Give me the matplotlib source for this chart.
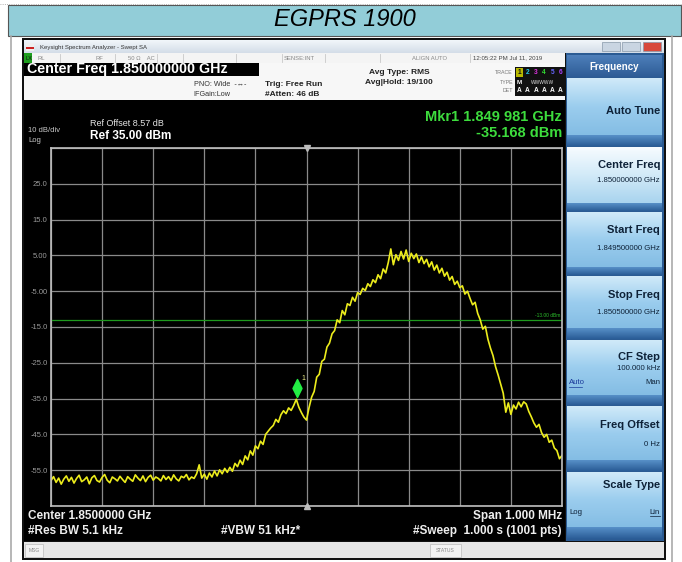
import numpy as np
import matplotlib.pyplot as plt
from matplotlib.patches import Rectangle
from matplotlib.colors import LinearSegmentedColormap
from matplotlib.path import Path

plt.rcParams['font.family'] = ['Liberation Sans', 'DejaVu Sans']

# trace, 5 kHz steps from -500 kHz to +500 kHz around 1.85 GHz (dBm)
trace_dbm = [
    -57.9, -56.8, -58.4, -57.2, -58.9, -57.5, -56.6, -58.1, -57.0, -58.6, -57.3, -56.4, -58.2, -57.7, -56.9, -58.8, -57.1, -56.5, -57.9, -58.3,
    -57.0, -56.2, -57.8, -58.5, -56.9, -57.4, -58.0, -56.7, -57.6, -58.4, -56.8, -57.5, -58.1, -56.3, -57.2, -57.9, -56.6, -58.2, -57.0, -56.4,
    -57.8, -56.9, -57.3, -58.0, -56.5, -57.6, -56.8, -57.9, -56.3, -57.4, -58.0, -56.7, -57.1, -56.2, -57.7, -56.9, -57.3, -56.0, -53.5, -57.2,
    -56.1, -57.5, -55.8, -56.9, -55.2, -56.6, -54.9, -56.0, -54.5, -55.6, -54.2, -55.3, -53.1, -54.0, -52.2, -53.4, -51.0, -52.1, -49.6, -50.8,
    -48.2, -49.0, -46.9, -47.8, -45.0, -44.1, -43.2, -42.5, -40.8, -41.6, -39.5, -38.4, -39.2, -37.6, -38.3, -36.9, -35.2, -37.4, -38.9, -40.2,
    -41.0, -37.5, -34.6, -33.0, -29.0, -28.2, -24.6, -24.0, -20.6, -19.5, -16.9, -16.0, -13.0, -13.8, -10.4, -11.6, -8.5, -9.0, -6.7, -7.8,
    -5.4, -5.9, -4.2, -4.8, -2.9, -3.7, -1.8, -2.6, -0.4, -1.5, 1.2, 0.1, 3.0, 6.8, 2.4, 5.2, 3.6, 6.1, 4.0, 6.5,
    3.3, 5.6, 4.1, 5.4, 3.0, 4.6, 2.7, 3.9, 1.8, 3.2, 0.9, 2.3, 0.1, 1.4, -0.8, 0.3, -1.9, -0.9, -3.1, -2.2,
    -4.0, -3.5, -5.8, -5.0, -7.0, -8.8, -8.1, -11.2, -13.0, -15.6, -14.8, -18.4, -20.9, -23.0, -26.1, -28.4, -31.0, -33.5, -38.8, -36.2,
    -39.4, -36.8, -37.9, -36.0, -37.3, -35.9, -36.5, -38.6, -40.1, -41.8, -43.0, -42.2, -44.5, -45.8, -45.0, -47.2, -46.6, -48.8, -49.5, -51.8,
    -50.9,
]
span_khz = 1000
ref_level = 35.0
db_per_div = 10
ytick_labels = ['', '-55.0', '-45.0', '-35.0', '-25.0', '-15.0', '-5.00', '5.00', '15.0', '25.0', '']
limit_dbm = -13.0
marker_khz = -19
marker_flag_dbm = -31.9

W, H = 682, 562
fig = plt.figure(figsize=(W / 100, H / 100), dpi=100)
bg = fig.add_axes([0, 0, 1, 1])


def box(x0, y0, x1, y1, color, z=0.5, **kw):
    bg.add_patch(Rectangle((x0, y0), x1 - x0, y1 - y0, facecolor=color,
                           edgecolor=kw.pop('ec', 'none'), lw=kw.pop('lw', 0.8), zorder=z, **kw))


def grad(x0, y0, x1, y1, colors, z=1):
    cm = LinearSegmentedColormap.from_list('g', colors)
    bg.imshow(np.linspace(0, 1, 64)[:, None], cmap=cm, extent=(x0, x1, y1, y0),
              aspect='auto', interpolation='bilinear', zorder=z)


def txt(x, y, s, size, color='black', ha='left', weight='normal', **kw):
    bg.text(x, y, s, fontsize=size, color=color, ha=ha, va='center', weight=weight, zorder=3, **kw)


# page frame and title band
box(8, 5, 681, 36, '#92cdd8', ec='#555555', lw=0.8)
bg.plot([0, 682], [4, 4], color='#999999', lw=0.6, ls=':', zorder=2)
bg.plot([11, 11], [36, 562], color='#aaaaaa', lw=1.2, zorder=2)
bg.plot([672, 672], [36, 562], color='#aaaaaa', lw=1.2, zorder=2)
txt(345, 20, 'EGPRS 1900', 17, ha='center', style='italic')

# analyzer window
box(22, 38, 666, 560, '#111111')
grad(24, 40, 664, 53, ['#f2f6fa', '#d3dde8'])
box(26, 43, 34, 51, '#eeeeee', z=2)
box(26, 47, 34, 49, '#cc2222', z=2.1)
txt(40, 47, 'Keysight Spectrum Analyzer - Swept SA', 4.3, '#333333')
for bx, bc in [(602, '#c9d5e2'), (622, '#c9d5e2'), (643, '#d8493c')]:
    box(bx, 42, bx + 18, 51, bc, z=2, ec='#8899aa', lw=0.5)

# status row
box(24, 53, 565, 63, '#f4f4f4')
box(24, 53, 32, 63, '#1e9e1e', z=2)
txt(25, 58, 'LX', 4, '#111111')
for s, x in [('RL', 37), ('RF', 95), ('50 Ω    AC', 128), ('SENSE:INT', 284), ('ALIGN AUTO', 412)]:
    txt(x, 58, s, 4.2, '#888888')
txt(473, 58, '12:05:22 PM Jul 11, 2019', 4.4, '#444444')
for x in [60, 115, 157, 183, 236, 282, 325, 380, 470]:
    bg.plot([x, x], [54, 62], color='#c8c8c8', lw=0.6, zorder=2)

# settings header
box(24, 63, 565, 100, '#f7f7f7')
box(24, 63, 259, 76, '#000000', z=2)
txt(27, 69.5, 'Center Freq 1.850000000 GHz', 10.3, 'white', weight='bold')
txt(194, 84, 'PNO: Wide  -↔-', 5.2, '#333333')
txt(193, 94, 'IFGain:Low', 5.2, '#333333')
txt(265, 84, 'Trig: Free Run', 6, '#222222', weight='bold')
txt(265, 95, '#Atten: 46 dB', 6, '#222222', weight='bold')
txt(369, 73, 'Avg Type: RMS', 6, '#222222', weight='bold')
txt(365, 83, 'Avg|Hold: 19/100', 6, '#222222', weight='bold')
for s, y in [('TRACE', 72), ('TYPE', 82), ('DET', 91)]:
    txt(513, y, s, 3.8, '#777777', ha='right')
box(515, 67, 565, 96, '#111111', z=2)
box(516, 68, 523, 77, '#b8b800', z=2.1)
for i, c in enumerate(['#111111', '#22ccee', '#dd33dd', '#33dd33', '#6666ff', '#aa44ff']):
    txt(519.5 + i * 8.2, 72.5, str(i + 1), 4.8, c, ha='center', weight='bold')
txt(519.5, 82, 'M', 4.5, 'white', ha='center', weight='bold')
txt(543, 82, 'WWWWW', 3.5, '#dddddd', ha='center')
for i in range(6):
    txt(519.5 + i * 8.2, 91, 'A', 4.8, 'white', ha='center', weight='bold')

# screen texts
box(24, 100, 565, 541, '#000000')
txt(28, 131, '10 dB/div', 5.5, '#c8c8c8')
txt(28, 140, 'Log', 5.5, '#c8c8c8')
txt(90, 123, 'Ref Offset 8.57 dB', 6.5, '#e4e4e4')
txt(90, 136, 'Ref 35.00 dBm', 8.5, 'white', weight='bold')
txt(562, 117, 'Mkr1 1.849 981 GHz', 10.5, '#3ddc3d', ha='right', weight='bold')
txt(562, 133, '-35.168 dBm', 10.5, '#3ddc3d', ha='right', weight='bold')
txt(28, 516, 'Center 1.8500000 GHz', 8.5, '#eeeeee', weight='bold')
txt(28, 531, '#Res BW 5.1 kHz', 8.5, '#eeeeee', weight='bold')
txt(221, 531, '#VBW 51 kHz*', 8.5, '#eeeeee', weight='bold')
txt(562, 516, 'Span 1.000 MHz', 8.5, '#eeeeee', ha='right', weight='bold')
txt(562, 531, '#Sweep  1.000 s (1001 pts)', 8.5, '#eeeeee', ha='right', weight='bold')

# bottom message bar
box(24, 542, 664, 558, '#e6e6e6')
box(25, 544, 43, 557, '#f2f2f2', z=2, ec='#bbbbbb', lw=0.5)
txt(34, 550.5, 'MSG', 3.6, '#888888', ha='center')
box(430, 544, 461, 557, '#f2f2f2', z=2, ec='#bbbbbb', lw=0.5)
txt(445.5, 550.5, 'STATUS', 3.6, '#888888', ha='center')

# softkey panel
box(566, 53, 664, 541, '#2b5b93')
grad(567, 55, 662, 77, ['#4e7fba', '#2d5c96'])
txt(614, 67, 'Frequency', 7, 'white', ha='center', weight='bold')
keys = [
    ('Auto Tune', 78, 135, False),
    ('Center Freq', 147, 203, True),
    ('Start Freq', 212, 267, False),
    ('Stop Freq', 276, 328, False),
    ('CF Step', 340, 395, False),
    ('Freq Offset', 406, 460, False),
    ('Scale Type', 472, 527, False),
]
for name, y0, y1, sel in keys:
    if sel:
        grad(567, y0, 662, y1, ['#f6fbff', '#d2eaf8', '#a9d4ef'])
    else:
        grad(567, y0, 662, y1, ['#d0eaf9', '#9bcdee', '#84bde4'])
    nxt = [k[1] for k in keys if k[1] > y1]
    grad(567, y1, 662, (nxt[0] - 1) if nxt else 539, ['#5790c8', '#2a5c96'])
key_txt = [
    ('Auto Tune', 111, 8, 'bold'),
    ('Center Freq', 165, 8, 'bold'), ('1.850000000 GHz', 180, 5.6, 'normal'),
    ('Start Freq', 230, 8, 'bold'), ('1.849500000 GHz', 248, 5.6, 'normal'),
    ('Stop Freq', 295, 8, 'bold'), ('1.850500000 GHz', 313, 5.6, 'normal'),
    ('CF Step', 357, 8, 'bold'), ('100.000 kHz', 369, 5.6, 'normal'), ('Man', 383, 5.6, 'normal'),
    ('Freq Offset', 425, 8, 'bold'), ('0 Hz', 444, 5.6, 'normal'),
    ('Scale Type', 485, 8, 'bold'), ('Lin', 512, 5.6, 'normal'),
]
for s, y, fs, wt in key_txt:
    txt(660, y, s, fs, '#0e2238', ha='right', weight=wt)
txt(569, 383, 'Auto', 5.6, '#1a3a9a')
bg.plot([569, 582], [387, 387], color='#1a3a9a', lw=0.5, zorder=3)
txt(569, 512, 'Log', 5.6, '#0e2238')
bg.plot([650, 660], [516, 516], color='#0e2238', lw=0.5, zorder=3)

bg.set_xlim(0, W)
bg.set_ylim(H, 0)
bg.axis('off')

# trace display
ax = fig.add_axes([51 / W, 1 - 506 / H, 511 / W, 358 / H])
ax.set_facecolor('black')
freq = np.linspace(-span_khz / 2, span_khz / 2, len(trace_dbm))
bottom = ref_level - 10 * db_per_div
ax.set_xlim(-span_khz / 2, span_khz / 2)
ax.set_ylim(bottom, ref_level)
ax.set_xticks(np.linspace(-span_khz / 2, span_khz / 2, 11))
ax.set_yticks(np.linspace(bottom, ref_level, 11), labels=ytick_labels)
ax.grid(color='#8a8a8a', lw=0.9)
ax.set_axisbelow(True)
ax.tick_params(length=0, labelbottom=False, labelsize=5.5, labelcolor='#9a9a9a', pad=2.5)
for sp in ax.spines.values():
    sp.set_color('#c0c0c0')
    sp.set_linewidth(1.2)

ax.axhline(limit_dbm, color='#1e9a1e', lw=0.9)
ax.text(span_khz / 2 - 4, limit_dbm + 0.6, '-13.00 dBm', fontsize=3.5, color='#2cc02c',
        ha='right', va='bottom')
ax.plot(freq, trace_dbm, color='#ecec1c', lw=1.2)

diamond = Path([(0, 1), (0.5, 0), (0, -1), (-0.5, 0), (0, 1)],
               [Path.MOVETO, Path.LINETO, Path.LINETO, Path.LINETO, Path.CLOSEPOLY])
ax.plot(marker_khz, marker_flag_dbm, marker=diamond, ms=13, color='#22ee44', mec='#22ee44')
ax.text(marker_khz + 10, marker_flag_dbm + 2.2, '1', fontsize=5, color='#eeee88')
ax.plot(0, ref_level, marker='v', ms=4, color='#bbbbbb', clip_on=False)
ax.plot(0, bottom, marker='^', ms=4, color='#bbbbbb', clip_on=False)

fig.savefig('out.png', dpi=100)
